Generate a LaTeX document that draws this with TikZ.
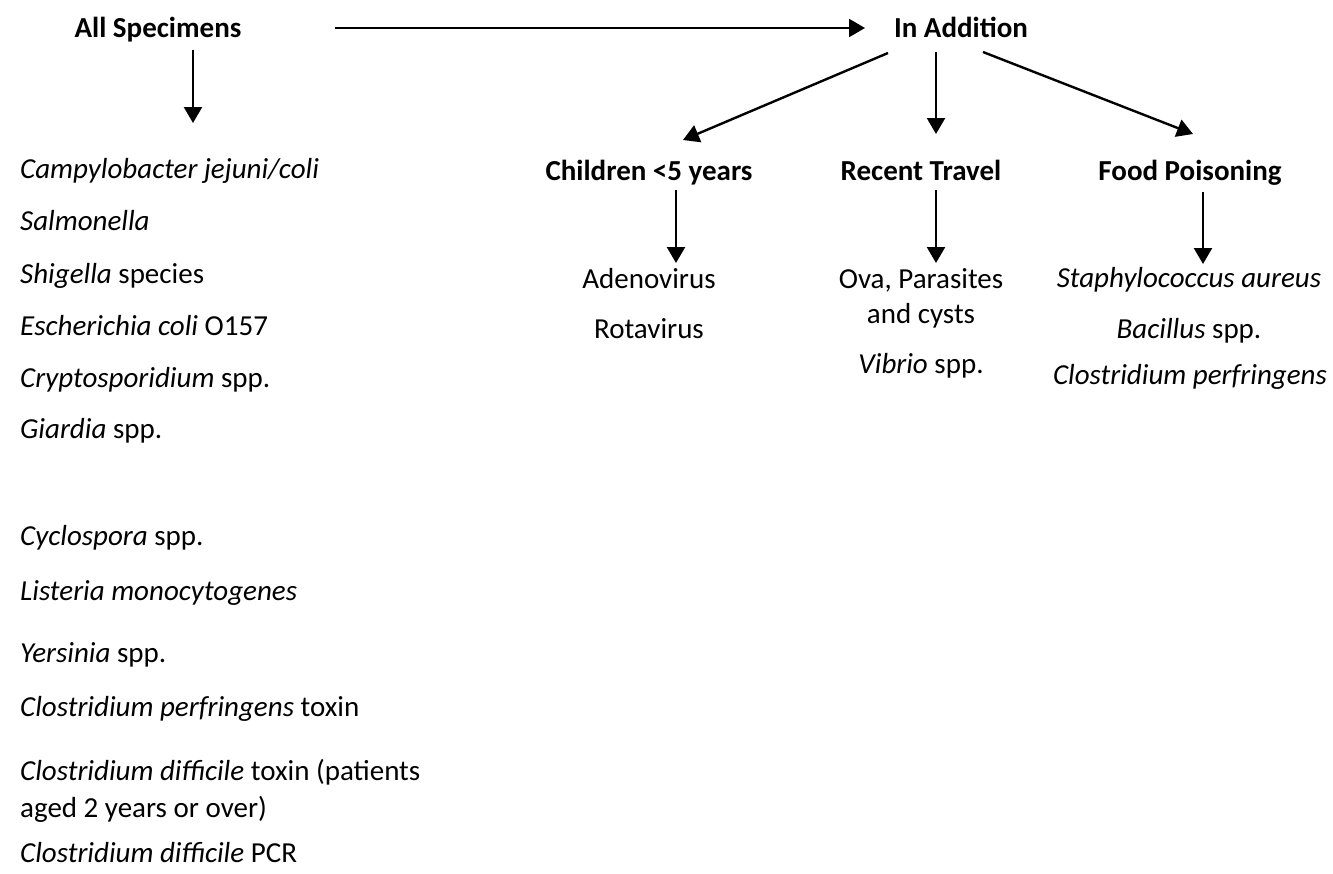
\documentclass[tikz,border=0pt]{standalone}
\usepackage{fontspec}
\setmainfont{Carlito}
\usetikzlibrary{arrows.meta}
\begin{document}
\begin{tikzpicture}[x=1pt,y=-1pt,
  font=\fontsize{29}{35}\selectfont,
  txt/.style={inner sep=0pt, anchor=base},
  hdr/.style={inner sep=0pt, anchor=base, font=\fontsize{29}{35}\selectfont\bfseries},
  lst/.style={inner sep=0pt, anchor=base west, align=left},
  arr/.style={line width=2.4pt, -{Triangle[length=16pt,width=18pt]}}]
\useasboundingbox (0,0) rectangle (1333,873);
% headers
\node[hdr] (all) at (158,37) {All Specimens};
\node[hdr] (add) at (961,37) {In Addition};
\node[hdr] (child) at (649,180) {Children <5 years};
\node[hdr] (travel) at (921,180) {Recent Travel};
\node[hdr] (food) at (1190,180) {Food Poisoning};
% right groups
\node[txt] (adeno) at (649,288) {Adenovirus};
\node[txt] (rota) at (649,338) {Rotavirus};
\node[txt] (ova) at (921,288) {Ova, Parasites};
\node[txt] (cysts) at (921,323) {and cysts};
\node[txt] (vibrio) at (921,373) {\textit{Vibrio} spp.};
\node[txt] (staph) at (1189,287) {\textit{Staphylococcus aureus}};
\node[txt] (bac) at (1189,338) {\textit{Bacillus} spp.};
\node[txt] (clp) at (1190,384) {\textit{Clostridium perfringens}};
% left list
\node[lst] (l1) at (20,178) {\textit{Campylobacter jejuni/coli}};
\node[lst] (l2) at (20,230) {\textit{Salmonella}};
\node[lst] (l3) at (20,283) {\textit{Shigella} species};
\node[lst] (l4) at (20,335) {\textit{Escherichia coli} O157};
\node[lst] (l5) at (20,387) {\textit{Cryptosporidium} spp.};
\node[lst] (l6) at (20,438) {\textit{Giardia} spp.};
\node[lst] (l7) at (20,545) {\textit{Cyclospora} spp.};
\node[lst] (l8) at (20,600) {\textit{Listeria monocytogenes}};
\node[lst] (l9) at (20,662) {\textit{Yersinia} spp.};
\node[lst] (l10) at (20,716) {\textit{Clostridium perfringens} toxin};
\node[lst] (l11) at (20,780) {\textit{Clostridium difficile} toxin (patients};
\node[lst] (l11b) at (20,817) {aged 2 years or over)};
\node[lst] (l12) at (20,862) {\textit{Clostridium difficile} PCR};
% arrow end points
\coordinate (hA) at (335,28);
\coordinate (hB) at (865,28);
\coordinate (aA) at (193,50);
\coordinate (aB) at (193,123);
\coordinate (iL) at (888,53);
\coordinate (iLe) at (683,140);
\coordinate (iM) at (936,52);
\coordinate (iMe) at (936,134);
\coordinate (iR) at (983,52);
\coordinate (iRe) at (1193,134);
\coordinate (cA) at (676,190);
\coordinate (cB) at (676,263);
\coordinate (tA) at (936,190);
\coordinate (tB) at (936,263);
\coordinate (fA) at (1203,192);
\coordinate (fB) at (1203,264);
% arrows
\draw[arr] (hA) -- (hB);
\draw[arr] (aA) -- (aB);
\draw[arr] (iL) -- (iLe);
\draw[arr] (iM) -- (iMe);
\draw[arr] (iR) -- (iRe);
\draw[arr] (cA) -- (cB);
\draw[arr] (tA) -- (tB);
\draw[arr] (fA) -- (fB);
\end{tikzpicture}
\end{document}
